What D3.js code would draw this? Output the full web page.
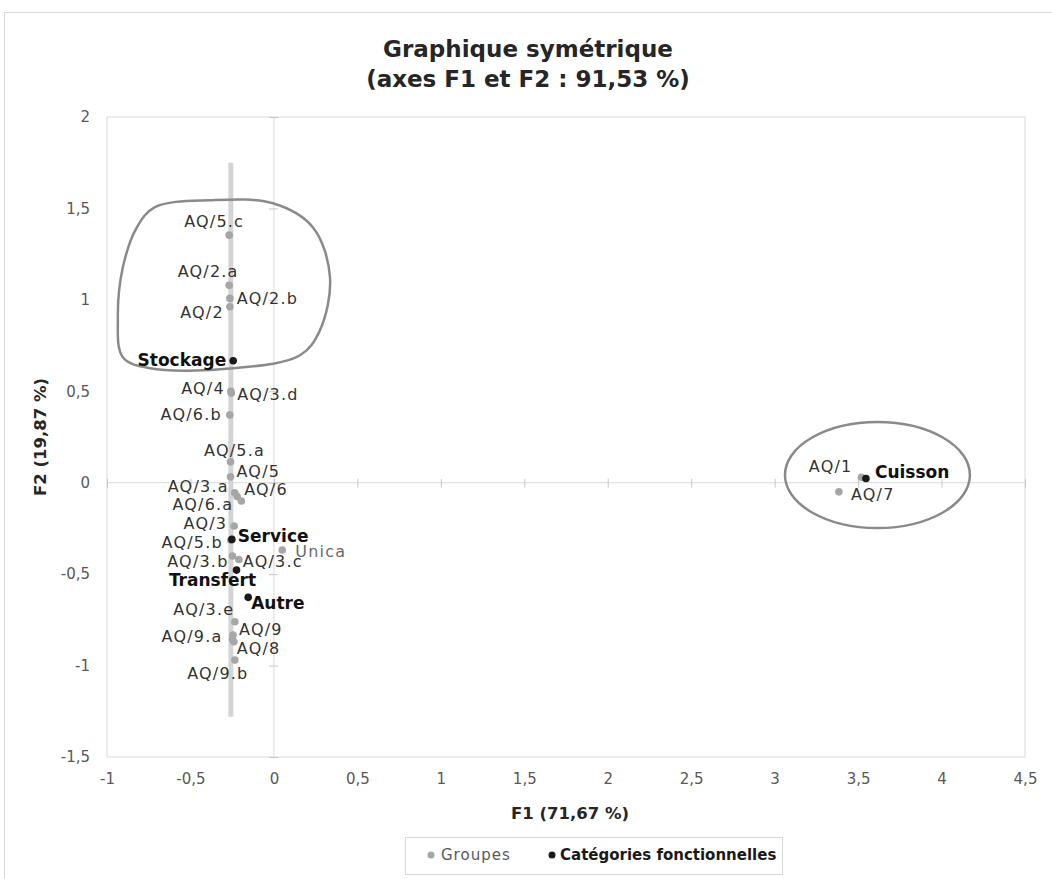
<!DOCTYPE html>
<html>
<head>
<meta charset="utf-8">
<script src="https://cdn.jsdelivr.net/npm/d3@7"></script>
<style>
  body { margin: 0; background: #fff; }
  text { font-family: "DejaVu Sans", sans-serif; }
</style>
</head>
<body>
<div id="chart"></div>
<script>
// Groupes (grey points)
var groupNames = ["AQ/5.c","AQ/2.a","AQ/2.b","AQ/2","AQ/4","AQ/3.d","AQ/6.b","AQ/5.a","AQ/5",
  "AQ/3.a","AQ/6","AQ/6.a","AQ/3","AQ/5.b","Unica","AQ/3.b","AQ/3.c","AQ/3.e","AQ/9","AQ/9.a",
  "AQ/8","AQ/9.b","AQ/1","AQ/7"];
var groupF1 = [-0.268,-0.268,-0.264,-0.264,-0.258,-0.255,-0.264,-0.260,-0.260,
  -0.235,-0.220,-0.195,-0.238,-0.258,0.050,-0.248,-0.210,-0.234,-0.245,-0.248,
  -0.240,-0.234,3.520,3.385];
var groupF2 = [1.354,1.080,1.008,0.962,0.500,0.490,0.370,0.114,0.032,
  -0.055,-0.075,-0.100,-0.237,-0.315,-0.368,-0.401,-0.420,-0.760,-0.833,-0.858,
  -0.870,-0.970,0.030,-0.050];

// Catégories fonctionnelles (black points)
var catNames = ["Stockage","Service","Transfert","Autre","Cuisson"];
var catF1 = [-0.244,-0.252,-0.224,-0.154,3.547];
var catF2 = [0.667,-0.310,-0.478,-0.627,0.023];

var xTicks = [-1,-0.5,0,0.5,1,1.5,2,2.5,3,3.5,4,4.5];
var yTicks = [-1.5,-1,-0.5,0,0.5,1,1.5,2];

// hand-drawn annotations, in F1/F2 units
var blobF1 = [-0.383,-0.006,0.234,0.336,0.276,0.156,-0.246,-0.743,-0.905,-0.935,-0.905,-0.821,-0.713];
var blobF2 = [1.545,1.528,1.396,1.123,0.834,0.697,0.626,0.626,0.686,0.905,1.178,1.397,1.507];
var bandF1 = [-0.258,-0.258];
var bandF2 = [1.75,-1.28];
var ellipseF1 = [3.616, 0.554];   // centre, radius
var ellipseF2 = [0.042, 0.29];

// label placement: anchor, dx, dy (px)
var labelPos = {
  "AQ/5.c":["middle",-15,-14], "AQ/2.a":["middle",-21,-14], "AQ/2.b":["start",7,0],
  "AQ/2":["end",-6,5], "AQ/4":["end",-6,-3], "AQ/3.d":["start",6,1], "AQ/6.b":["end",-8,-1],
  "AQ/5.a":["middle",4,-12], "AQ/5":["start",6,-6], "AQ/3.a":["end",-6,-7], "AQ/6":["start",7,-7],
  "AQ/6.a":["end",-8,3], "AQ/3":["end",-7,-3], "AQ/5.b":["end",-8,2], "Unica":["start",13,1],
  "AQ/3.b":["end",-4,5], "AQ/3.c":["start",4,2], "AQ/3.e":["middle",-31,-12], "AQ/9":["start",6,-6],
  "AQ/9.a":["end",-10,-3], "AQ/8":["start",3,6], "AQ/9.b":["middle",-17,13], "AQ/1":["end",-9,-11],
  "AQ/7":["start",12,2],
  "Stockage":["end",-7,-1], "Service":["start",6,-4], "Transfert":["middle",-24,10],
  "Autre":["start",3,6], "Cuisson":["start",9,-7]
};

var width = 1052, height = 879;
var margin = {left: 107, right: 27, top: 117, bottom: 122};

var svg = d3.select("#chart").append("svg")
    .attr("width", width)
    .attr("height", height);

// outer chart frame
svg.append("rect")
    .attr("x", 4.5).attr("y", 12.5)
    .attr("width", width + 10).attr("height", height)
    .attr("fill", "none").attr("stroke", "#d9d9d9");

var x = d3.scaleLinear().domain([-1, 4.5]).range([margin.left, width - margin.right]);
var y = d3.scaleLinear().domain([-1.5, 2]).range([height - margin.bottom, margin.top]);

var loc = d3.formatLocale({decimal: ",", thousands: " ", grouping: [3], currency: ["", ""], minus: "-"});
var fmt = loc.format("");

// plot area
svg.append("rect")
    .attr("x", x(-1)).attr("y", y(2))
    .attr("width", x(4.5) - x(-1)).attr("height", y(-1.5) - y(2))
    .attr("fill", "none").attr("stroke", "#d9d9d9");

// zero lines
svg.append("line")
    .attr("x1", x(-1)).attr("x2", x(4.5)).attr("y1", y(0)).attr("y2", y(0))
    .attr("stroke", "#d9d9d9");
svg.append("line")
    .attr("x1", x(0)).attr("x2", x(0)).attr("y1", y(2)).attr("y2", y(-1.5))
    .attr("stroke", "#d9d9d9");

// cross ticks on the zero lines
svg.append("g")
    .attr("transform", "translate(0," + y(0) + ")")
    .call(d3.axisBottom(x).tickValues(xTicks).tickSize(5).tickFormat(""))
    .call(function(g) {
      g.select(".domain").remove();
      g.selectAll(".tick line").attr("y1", -4).attr("stroke", "#c8c8c8");
    });
svg.append("g")
    .attr("transform", "translate(" + x(0) + ",0)")
    .call(d3.axisLeft(y).tickValues(yTicks).tickSize(5).tickFormat(""))
    .call(function(g) {
      g.select(".domain").remove();
      g.selectAll(".tick line").attr("x1", 4).attr("stroke", "#c8c8c8");
    });

// tick labels (low position)
svg.append("g")
    .attr("transform", "translate(0," + y(-1.5) + ")")
    .call(d3.axisBottom(x).tickValues(xTicks).tickSize(0).tickPadding(16).tickFormat(fmt))
    .call(function(g) {
      g.select(".domain").remove();
      g.selectAll("text").attr("font-size", 15).attr("fill", "#595959")
        .style("font-family", "DejaVu Sans");
    });
svg.append("g")
    .attr("transform", "translate(" + x(-1) + ",0)")
    .call(d3.axisLeft(y).tickValues(yTicks).tickSize(0).tickPadding(17).tickFormat(fmt))
    .call(function(g) {
      g.select(".domain").remove();
      g.selectAll("text").attr("font-size", 15).attr("fill", "#595959")
        .style("font-family", "DejaVu Sans");
    });

// title
svg.append("text")
    .attr("x", 528).attr("y", 57)
    .attr("text-anchor", "middle")
    .attr("font-size", 23).attr("font-weight", "bold").attr("fill", "#262626")
    .text("Graphique symétrique");
svg.append("text")
    .attr("x", 528).attr("y", 87)
    .attr("text-anchor", "middle")
    .attr("font-size", 23).attr("font-weight", "bold").attr("fill", "#262626")
    .text("(axes F1 et F2 : 91,53 %)");

// axis titles
svg.append("text")
    .attr("x", 570).attr("y", 819)
    .attr("text-anchor", "middle")
    .attr("font-size", 16.5).attr("font-weight", "bold").attr("fill", "#262626")
    .text("F1 (71,67 %)");
svg.append("text")
    .attr("transform", "translate(46," + y(0.25) + ") rotate(-90)")
    .attr("text-anchor", "middle")
    .attr("font-size", 16.5).attr("font-weight", "bold").attr("fill", "#262626")
    .text("F2 (19,87 %)");

// annotations
svg.append("line")
    .attr("x1", x(bandF1[0])).attr("x2", x(bandF1[1]))
    .attr("y1", y(bandF2[0])).attr("y2", y(bandF2[1]))
    .attr("stroke", "#d4d4d4").attr("stroke-width", 5);

var blob = d3.zip(blobF1, blobF2);
svg.append("path")
    .attr("d", d3.line().x(function(d) { return x(d[0]); }).y(function(d) { return y(d[1]); })
      .curve(d3.curveCatmullRomClosed.alpha(0.5))(blob))
    .attr("fill", "none").attr("stroke", "#8a8a8a").attr("stroke-width", 2.5);

svg.append("ellipse")
    .attr("cx", x(ellipseF1[0])).attr("cy", y(ellipseF2[0]))
    .attr("rx", x(ellipseF1[0] + ellipseF1[1]) - x(ellipseF1[0]))
    .attr("ry", y(ellipseF2[0]) - y(ellipseF2[0] + ellipseF2[1]))
    .attr("fill", "none").attr("stroke", "#8a8a8a").attr("stroke-width", 2.5);

// points
var groups = groupNames.map(function(n, i) { return {name: n, f1: groupF1[i], f2: groupF2[i]}; });
var cats = catNames.map(function(n, i) { return {name: n, f1: catF1[i], f2: catF2[i]}; });

svg.selectAll(".grp")
    .data(groups)
    .enter().append("circle")
    .attr("class", "grp")
    .attr("cx", function(d) { return x(d.f1); })
    .attr("cy", function(d) { return y(d.f2); })
    .attr("r", 3.8)
    .attr("fill", "#a6a6a6");

svg.selectAll(".cat")
    .data(cats)
    .enter().append("circle")
    .attr("class", "cat")
    .attr("cx", function(d) { return x(d.f1); })
    .attr("cy", function(d) { return y(d.f2); })
    .attr("r", 3.8)
    .attr("fill", "#1a1a1a");

// labels
svg.selectAll(".grpLabel")
    .data(groups)
    .enter().append("text")
    .attr("class", "grpLabel")
    .attr("x", function(d) { return x(d.f1) + labelPos[d.name][1]; })
    .attr("y", function(d) { return y(d.f2) + labelPos[d.name][2]; })
    .attr("dy", "0.36em")
    .attr("text-anchor", function(d) { return labelPos[d.name][0]; })
    .attr("font-size", 16)
    .attr("letter-spacing", 1.2)
    .attr("fill", function(d) { return d.name == "Unica" ? "#6b6b6b" : "#333"; })
    .text(function(d) { return d.name; });

svg.selectAll(".catLabel")
    .data(cats)
    .enter().append("text")
    .attr("class", "catLabel")
    .attr("x", function(d) { return x(d.f1) + labelPos[d.name][1]; })
    .attr("y", function(d) { return y(d.f2) + labelPos[d.name][2]; })
    .attr("dy", "0.36em")
    .attr("text-anchor", function(d) { return labelPos[d.name][0]; })
    .attr("font-size", 17)
    .attr("font-weight", "bold")
    .attr("fill", "#111")
    .text(function(d) { return d.name; });

// legend
var legend = svg.append("g").attr("transform", "translate(405,837)");
legend.append("rect")
    .attr("x", 0.5).attr("y", 0.5).attr("width", 377).attr("height", 37)
    .attr("fill", "#fff").attr("stroke", "#d9d9d9");
legend.append("circle").attr("cx", 26).attr("cy", 18).attr("r", 3.5).attr("fill", "#a6a6a6");
legend.append("text").attr("x", 36).attr("y", 18).attr("dy", "0.36em")
    .attr("font-size", 15).attr("letter-spacing", 1).attr("fill", "#595959").text("Groupes");
legend.append("circle").attr("cx", 147).attr("cy", 18).attr("r", 3.5).attr("fill", "#1a1a1a");
legend.append("text").attr("x", 155).attr("y", 18).attr("dy", "0.36em")
    .attr("font-size", 15).attr("font-weight", "bold").attr("fill", "#1a1a1a")
    .text("Catégories fonctionnelles");
</script>
</body>
</html>
